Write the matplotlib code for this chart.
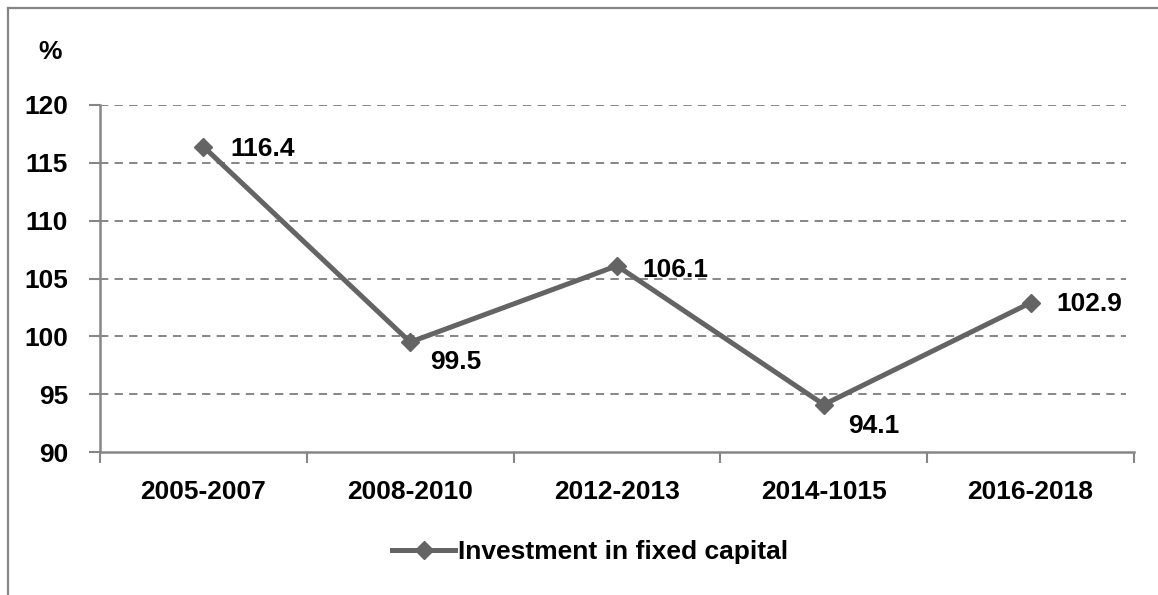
import matplotlib as mpl
import matplotlib.pyplot as plt
from matplotlib.lines import Line2D

# data
periods = ["2005-2007", "2008-2010", "2012-2013", "2014-1015", "2016-2018"]
investment = [116.4, 99.5, 106.1, 94.1, 102.9]
series_label = "Investment in fixed capital"
y_ticks = [90, 95, 100, 105, 110, 115, 120]

# label offsets in pixels (dx, dy) relative to each point
label_offsets = [(27, -2), (20, -20), (25, -4), (24, -21), (26, -1)]

FS = 19

mpl.rcParams.update({
    "font.family": ["Liberation Sans", "DejaVu Sans"],
    "font.weight": "bold",
    "font.size": FS,
    "lines.scale_dashes": False,
})

line_col = "#646464"
axis_col = "#868686"

fig = plt.figure(figsize=(11.58, 5.95), dpi=100)
ax = fig.add_axes([100 / 1158, 1 - 452 / 595, 1034 / 1158, 347 / 595])

x = [i + 0.5 for i in range(len(periods))]
ax.plot(x, investment, color=line_col, lw=3.6, marker="D", ms=9,
        markeredgecolor=line_col, markerfacecolor=line_col,
        solid_joinstyle="miter", label=series_label, zorder=3)

for xi, v, (dx, dy) in zip(x, investment, label_offsets):
    ax.annotate(f"{v:.1f}", (xi, v), xytext=(dx, dy), textcoords="offset pixels",
                ha="left", va="center", fontsize=FS, fontweight="bold")

ax.set_xlim(0, len(periods))
ax.set_ylim(90, 120)
ax.set_yticks(y_ticks)
ax.set_yticklabels([str(t) for t in y_ticks])
ax.set_xticks(range(len(periods) + 1))
ax.set_xticklabels([])
ax.set_xticks(x, minor=True)
ax.set_xticklabels(periods, minor=True)

ax.tick_params(axis="x", which="major", length=8, width=1.5, color=axis_col)
ax.tick_params(axis="x", which="minor", length=0, pad=20)
ax.tick_params(axis="y", length=8, width=1.5, color=axis_col, pad=15)
for t in ax.get_xticklabels(minor=True) + ax.get_yticklabels():
    t.set_fontweight("bold")

for s in ["top", "right"]:
    ax.spines[s].set_visible(False)
for s in ["left", "bottom"]:
    ax.spines[s].set_color(axis_col)
    ax.spines[s].set_linewidth(1.8)

for t in y_ticks[1:]:
    ax.axhline(t, xmin=0, xmax=1026 / 1034, color=axis_col, lw=1.4,
               ls=(0, (6, 4.5)), zorder=1)

fig.text(50 / 1158, 1 - 52 / 595, "%", ha="center", va="center",
         fontsize=FS, fontweight="bold")

leg = fig.legend(handles=ax.get_lines()[:1], loc="center",
                 bbox_to_anchor=(590 / 1158, 1 - 552 / 595), frameon=False,
                 handlelength=2.4, handletextpad=0.1, prop={"weight": "bold", "size": FS})

# outer frame (only left and top visible)
fig.add_artist(Line2D([8 / 1158, 8 / 1158], [0, 1 - 8 / 595], transform=fig.transFigure,
                      color=axis_col, lw=1.6))
fig.add_artist(Line2D([8 / 1158, 1], [1 - 8 / 595, 1 - 8 / 595], transform=fig.transFigure,
                      color=axis_col, lw=1.6))

fig.savefig("out.png", dpi=100)
